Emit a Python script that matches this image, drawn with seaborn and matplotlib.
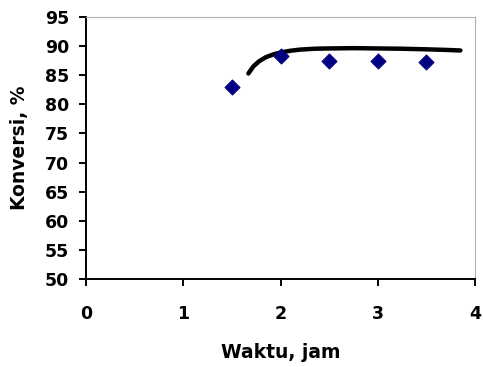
import numpy as np
import pandas as pd
import seaborn as sns
import matplotlib
matplotlib.use('Agg')
import matplotlib.pyplot as plt

# Data percobaan
waktu = [1.5, 2.0, 2.5, 3.0, 3.5]
konversi = [83.0, 88.3, 87.5, 87.5, 87.2]

# Kurva model
waktu_model = [1.67, 1.72, 1.78, 1.85, 1.93, 2.0, 2.1, 2.2, 2.35, 2.5, 2.75, 3.0, 3.25, 3.5, 3.7, 3.85]
konversi_model = [85.3, 86.5, 87.4, 88.1, 88.6, 88.9, 89.2, 89.4, 89.55, 89.6, 89.65, 89.6, 89.55, 89.45, 89.35, 89.25]

sns.set_style('white')
plt.rcParams['font.family'] = ['DejaVu Sans']
plt.rcParams['text.color'] = 'black'
plt.rcParams['axes.labelcolor'] = 'black'
plt.rcParams['xtick.color'] = 'black'
plt.rcParams['ytick.color'] = 'black'

fig = plt.figure(figsize=(4.83, 3.67), dpi=100)
ax = fig.add_axes([86 / 483, 1 - 279 / 367, (475 - 86) / 483, (279 - 17) / 367])

df_model = pd.DataFrame({'x': waktu_model, 'y': konversi_model})
sns.lineplot(data=df_model, x='x', y='y', color='black', linewidth=3.2, ax=ax)

df = pd.DataFrame({'x': waktu, 'y': konversi})
sns.scatterplot(data=df, x='x', y='y', marker='D', s=60, color='#000080',
                edgecolor='#000080', ax=ax, zorder=3)

ax.set_xlim(0, 4)
ax.set_ylim(50, 95)
ax.set_xticks([0, 1, 2, 3, 4])
ax.set_yticks(np.arange(50, 96, 5))

for s in ['left', 'bottom']:
    ax.spines[s].set_color('black')
    ax.spines[s].set_linewidth(1.4)
for s in ['top', 'right']:
    ax.spines[s].set_color('#b0b0b0')
    ax.spines[s].set_linewidth(0.8)

ax.tick_params(axis='x', direction='out', length=5, width=1.4, pad=14,
               labelsize=12.5, bottom=True, colors='black')
ax.tick_params(axis='y', direction='out', length=5, width=1.4, pad=7,
               labelsize=12.5, left=True, colors='black')
for lab in ax.get_xticklabels() + ax.get_yticklabels():
    lab.set_fontweight('bold')

ax.set_xlabel('Waktu, jam', fontsize=13.5, fontweight='bold', color='black')
ax.set_ylabel('Konversi, %', fontsize=13.5, fontweight='bold', color='black')
ax.xaxis.set_label_coords(0.5, -(352 - 279) / (279 - 17), transform=ax.transAxes)
ax.yaxis.set_label_coords(-(86 - 20) / (475 - 86), 0.5, transform=ax.transAxes)
ax.xaxis.label.set_va('center')
ax.yaxis.label.set_va('center')

fig.savefig('out.png', dpi=100)
